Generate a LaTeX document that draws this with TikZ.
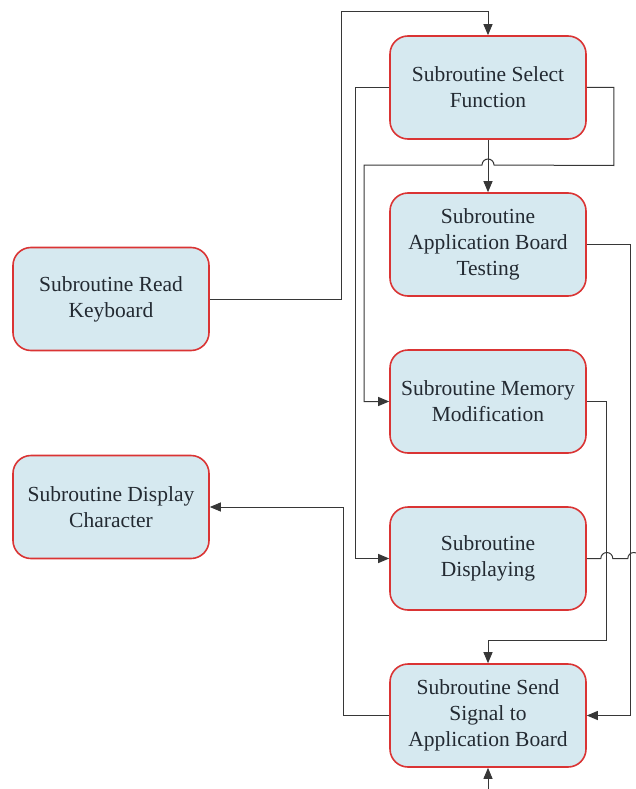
\documentclass[tikz,border=0pt]{standalone}
\usepackage{fontspec}
\setmainfont{Liberation Serif}
\usetikzlibrary{positioning, arrows.meta}

\definecolor{subred}{RGB}{218,52,52}
\definecolor{subblue}{RGB}{214,233,240}
\definecolor{linegray}{RGB}{55,55,55}
\definecolor{textgray}{RGB}{35,42,50}

\begin{document}
\begin{tikzpicture}[x=1pt, y=-1pt,
    subbox/.style={draw=subred, fill=subblue, line width=1.6pt, rounded corners=18pt,
        minimum width=196pt, minimum height=103pt, align=center, text=textgray,
        inner sep=2pt, font=\fontsize{21.5}{26}\selectfont},
    link/.style={draw=linegray, line width=1pt, -{Triangle[length=11pt, width=9pt]}},
    line/.style={draw=linegray, line width=1pt},
    node distance=52.4pt]

\useasboundingbox (0,0) rectangle (636,789);

\node[subbox](sel) at (488,87.5){Subroutine Select\\Function};
\node[subbox, below=of sel](app){Subroutine\\Application Board\\Testing};
\node[subbox, below=of app](mem){Subroutine Memory\\Modification};
\node[subbox, below=of mem](disp){Subroutine\\Displaying};
\node[subbox, below=of disp](send){Subroutine Send\\Signal to\\Application Board};
\node[subbox](kb) at (111,299){Subroutine Read\\Keyboard};
\node[subbox](chr) at (111,507){Subroutine Display\\Character};

\coordinate (sendin) at (488,789);
\coordinate (dispout) at ([xshift=52pt]disp.east);

\draw[link] (kb.east) -| (341,12) -| (sel.north);
\draw[link] (sel) -- (app);
\draw[link] (sel.west) -- ++(-34,0) |- (disp.west);
\draw[link] (sel.east) -- ++(27,0) -- ++(0,78) -- (494,165)
    arc[start angle=0, end angle=-180, radius=6] -- (364,165) |- (mem.west);
\draw[link] (app.east) -- ++(44,0) |- (send.east);
\draw[link] (mem.east) -- ++(20,0) -- ++(0,239) -| (send.north);
\draw[line] (disp.east) -- ++(14,0) arc[start angle=180, end angle=360, radius=6]
    -- ++(15,0) arc[start angle=180, end angle=360, radius=6] -- (dispout);
\draw[link] (send.west) -- ++(-46,0) |- (chr.east);
\draw[link] (sendin) -- (send.south);
\end{tikzpicture}
\end{document}
